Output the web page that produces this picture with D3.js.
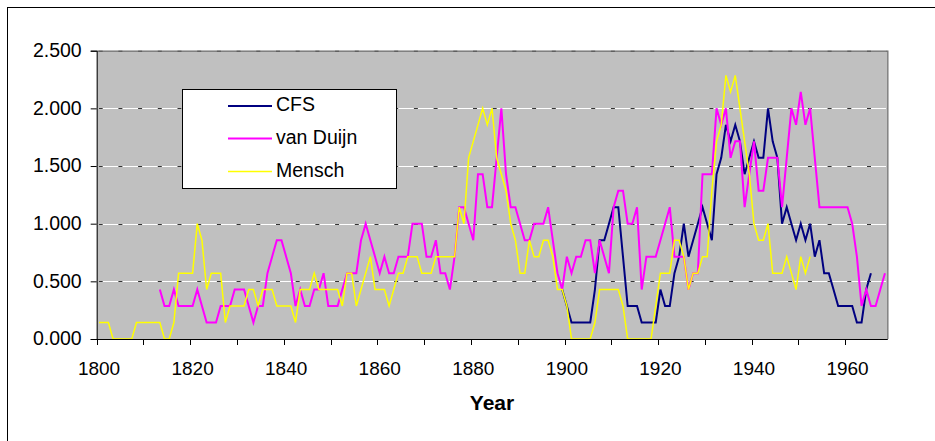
<!DOCTYPE html>
<html>
<head>
<meta charset="utf-8">
<script src="https://cdn.jsdelivr.net/npm/d3@7"></script>
<style>
  body { margin: 0; background: #fff; }
  svg { display: block; }
</style>
</head>
<body>
<div id="chart"></div>
<script>
var width = 935;
var height = 441;

// categories: one per year, 1800 .. 1968
var firstYear = 1800;
var lastYear = 1968;
var yTicks = [0, 0.5, 1.0, 1.5, 2.0, 2.5];
var xLabelYears = [1800, 1820, 1840, 1860, 1880, 1900, 1920, 1940, 1960];

// CFS, from 1899
var cfsStart = 1899;
var cfs = [0.429,
  0.286, 0.143, 0.143, 0.143, 0.143, 0.143, 0.429, 0.857, 0.857, 1.000,
  1.143, 1.143, 0.714, 0.286, 0.286, 0.286, 0.143, 0.143, 0.143, 0.143,
  0.429, 0.286, 0.286, 0.571, 0.714, 1.000, 0.714, 0.857, 1.000, 1.143,
  1.000, 0.857, 1.429, 1.571, 1.857, 1.714, 1.857, 1.714, 1.429, 1.571,
  1.714, 1.571, 1.571, 2.000, 1.714, 1.571, 1.000, 1.143, 1.000, 0.857,
  1.000, 0.857, 1.000, 0.714, 0.857, 0.571, 0.571, 0.429, 0.286, 0.286,
  0.286, 0.286, 0.143, 0.143, 0.429, 0.571];

// van Duijn, from 1813
var duijnStart = 1813;
var duijn = [0.429, 0.286, 0.286, 0.429, 0.286, 0.286, 0.286,
  0.286, 0.429, 0.286, 0.143, 0.143, 0.143, 0.286, 0.286, 0.286, 0.429,
  0.429, 0.429, 0.286, 0.143, 0.286, 0.286, 0.571, 0.714, 0.857, 0.857,
  0.714, 0.571, 0.286, 0.429, 0.286, 0.286, 0.429, 0.429, 0.571, 0.286,
  0.286, 0.286, 0.429, 0.571, 0.571, 0.571, 0.857, 1.000, 0.857, 0.714,
  0.571, 0.714, 0.571, 0.571, 0.714, 0.714, 0.714, 1.000, 1.000, 1.000,
  0.714, 0.714, 0.857, 0.571, 0.571, 0.429, 0.714, 1.143, 1.143, 1.000,
  0.857, 1.429, 1.429, 1.143, 1.143, 1.571, 2.000, 1.429, 1.143, 1.143,
  1.000, 0.857, 0.857, 1.000, 1.000, 1.000, 1.143, 0.857, 0.571, 0.429,
  0.714, 0.571, 0.714, 0.714, 0.857, 0.857, 0.571, 0.857, 0.714, 0.571,
  1.143, 1.286, 1.286, 1.000, 1.000, 1.143, 0.429, 0.714, 0.714, 0.714,
  0.857, 1.000, 1.143, 0.714, 0.714, 0.714, 0.429, 0.571, 0.571, 1.429,
  1.429, 1.429, 2.000, 1.857, 2.000, 1.571, 1.714, 1.714, 1.143, 1.429,
  1.714, 1.286, 1.286, 1.571, 1.571, 1.571, 1.143, 1.571, 2.000, 1.857,
  2.143, 1.857, 2.000, 1.571, 1.143, 1.143, 1.143, 1.143, 1.143, 1.143,
  1.143, 1.000, 0.714, 0.286, 0.429, 0.286, 0.286, 0.429, 0.571];

// Mensch, from 1800
var menschStart = 1800;
var mensch = [0.143, 0.143, 0.143, 0, 0, 0, 0, 0, 0.143, 0.143,
  0.143, 0.143, 0.143, 0.143, 0, 0, 0.143, 0.571, 0.571, 0.571,
  0.571, 1.000, 0.857, 0.429, 0.571, 0.571, 0.571, 0.143, 0.286, 0.286,
  0.286, 0.286, 0.429, 0.429, 0.286, 0.429, 0.429, 0.429, 0.286, 0.286,
  0.286, 0.286, 0.143, 0.429, 0.429, 0.429, 0.571, 0.429, 0.429, 0.429,
  0.429, 0.429, 0.286, 0.571, 0.571, 0.286, 0.429, 0.571, 0.714, 0.429,
  0.429, 0.429, 0.286, 0.429, 0.571, 0.571, 0.714, 0.714, 0.714, 0.571,
  0.571, 0.571, 0.714, 0.714, 0.714, 0.714, 0.714, 1.143, 1.000, 1.571,
  1.714, 1.857, 2.000, 1.857, 2.000, 1.571, 1.429, 1.286, 1.000, 0.857,
  0.571, 0.571, 0.857, 0.714, 0.714, 0.857, 0.857, 0.714, 0.429, 0.429,
  0.286, 0, 0, 0, 0, 0, 0.143, 0.429, 0.429, 0.429,
  0.429, 0.429, 0.286, 0, 0, 0, 0, 0, 0, 0.286,
  0.571, 0.571, 0.571, 0.857, 0.857, 0.714, 0.429, 0.571, 0.571, 0.714,
  0.714, 1.286, 1.714, 1.857, 2.286, 2.143, 2.286, 2.000, 1.714, 1.429,
  1.000, 0.857, 0.857, 1.000, 0.571, 0.571, 0.571, 0.714, 0.571, 0.429,
  0.714, 0.571, 0.714];

var seriesNames = ["CFS", "van Duijn", "Mensch"];
var seriesColors = ["#000080", "#ff00ff", "#ffff00"];
var seriesWidths = [2, 2, 1.5];

var plotLeft = 96.7;
var plotRight = 887.3;
var plotTop = 50.7;
var plotBottom = 339;
var font = "Liberation Sans, Arial, sans-serif";

var svg = d3.select("#chart")
    .append("svg")
    .attr("width", width)
    .attr("height", height);

svg.append("rect")
    .attr("width", width)
    .attr("height", height)
    .attr("fill", "white");

// outer chart frame (runs off the picture on the right and bottom)
svg.append("rect")
    .attr("x", 7.5)
    .attr("y", 7.5)
    .attr("width", 1000)
    .attr("height", 1000)
    .attr("fill", "none")
    .attr("stroke", "black")
    .attr("stroke-width", 1);

var x = d3.scaleLinear()
    .domain([firstYear, lastYear + 1])
    .range([plotLeft, plotRight]);

var y = d3.scaleLinear()
    .domain([0, 2.5])
    .range([plotBottom, plotTop]);

svg.append("rect")
    .attr("x", plotLeft)
    .attr("y", plotTop)
    .attr("width", plotRight - plotLeft)
    .attr("height", plotBottom - plotTop)
    .attr("fill", "#c0c0c0");

// gridlines: white with small dark dashes, like the source rendering
var gridVals = yTicks.filter(d => d > 0 && d < 2.5);
svg.selectAll(".grid")
    .data(gridVals)
    .enter()
    .append("line")
    .attr("x1", plotLeft)
    .attr("x2", plotRight)
    .attr("y1", d => Math.round(y(d)) + 0.5)
    .attr("y2", d => Math.round(y(d)) + 0.5)
    .attr("stroke", "white")
    .attr("stroke-width", 1);

svg.selectAll(".gridDash")
    .data(gridVals)
    .enter()
    .append("line")
    .attr("x1", plotLeft + 2)
    .attr("x2", plotRight)
    .attr("y1", d => Math.round(y(d)) + 0.5)
    .attr("y2", d => Math.round(y(d)) + 0.5)
    .attr("stroke", "#333")
    .attr("stroke-width", 1)
    .attr("stroke-dasharray", "4 15.7");

// top and right edges of the plot area
svg.append("path")
    .attr("d", "M" + plotLeft + "," + (plotTop + 0.5) + "H" + (plotRight + 0.5) + "V" + plotBottom)
    .attr("fill", "none")
    .attr("stroke", "#808080")
    .attr("stroke-width", 1.5);

svg.append("line")
    .attr("x1", plotLeft + 2)
    .attr("x2", plotRight)
    .attr("y1", plotTop + 0.5)
    .attr("y2", plotTop + 0.5)
    .attr("stroke", "#505050")
    .attr("stroke-dasharray", "4 15.7");

// series lines
var seriesData = [
    cfs.map((v, i) => ({year: cfsStart + i, value: v})),
    duijn.map((v, i) => ({year: duijnStart + i, value: v})),
    mensch.map((v, i) => ({year: menschStart + i, value: v}))
];

var line = d3.line()
    .x(d => x(d.year + 0.5))
    .y(d => y(d.value));

seriesData.forEach(function(data, i) {
    svg.append("path")
        .datum(data)
        .attr("d", line)
        .attr("fill", "none")
        .attr("stroke", seriesColors[i])
        .attr("stroke-width", seriesWidths[i]);
});

// y axis
var yAxis = d3.axisLeft(y)
    .tickValues(yTicks)
    .tickSize(6)
    .tickPadding(9)
    .tickFormat(d3.format(".3f"));

var gy = svg.append("g")
    .attr("transform", "translate(" + plotLeft + ",0)")
    .call(yAxis);
gy.selectAll("text")
    .style("font-family", font)
    .style("font-size", "19.5px")
    .attr("dy", "0.3em")
    .attr("fill", "black");
gy.selectAll("line, path").attr("stroke", "black");

// x axis: ticks between categories every 10 years, labels at category centres
var tickYears = d3.range(firstYear, lastYear + 1, 10);
var gx = svg.append("g")
    .attr("transform", "translate(0," + plotBottom + ")");
gx.append("line")
    .attr("x1", plotLeft)
    .attr("x2", plotRight + 0.5)
    .attr("y1", 0.5)
    .attr("y2", 0.5)
    .attr("stroke", "black");
gx.selectAll(".tick")
    .data(tickYears)
    .enter()
    .append("line")
    .attr("x1", d => Math.round(x(d)) + 0.5)
    .attr("x2", d => Math.round(x(d)) + 0.5)
    .attr("y1", 0)
    .attr("y2", 6)
    .attr("stroke", "black");
gx.selectAll(".lbl")
    .data(xLabelYears)
    .enter()
    .append("text")
    .attr("x", d => x(d + 0.5))
    .attr("y", 36)
    .attr("text-anchor", "middle")
    .style("font-family", font)
    .style("font-size", "19px")
    .text(d => d);

svg.append("text")
    .attr("x", (plotLeft + plotRight) / 2)
    .attr("y", 410)
    .attr("text-anchor", "middle")
    .style("font-family", font)
    .style("font-size", "21px")
    .style("font-weight", "bold")
    .text("Year");

// legend
var legend = svg.append("g");
legend.append("rect")
    .attr("x", 182.5)
    .attr("y", 89.5)
    .attr("width", 214)
    .attr("height", 99)
    .attr("fill", "white")
    .attr("stroke", "black")
    .attr("stroke-width", 1);

var legendBaselines = [111, 143.5, 176.5];
seriesNames.forEach(function(name, i) {
    legend.append("line")
        .attr("x1", 228)
        .attr("x2", 272)
        .attr("y1", legendBaselines[i] - 5)
        .attr("y2", legendBaselines[i] - 5)
        .attr("stroke", seriesColors[i])
        .attr("stroke-width", seriesWidths[i]);
    legend.append("text")
        .attr("x", 276)
        .attr("y", legendBaselines[i])
        .style("font-family", font)
        .style("font-size", "19.5px")
        .text(name);
});
</script>
</body>
</html>
